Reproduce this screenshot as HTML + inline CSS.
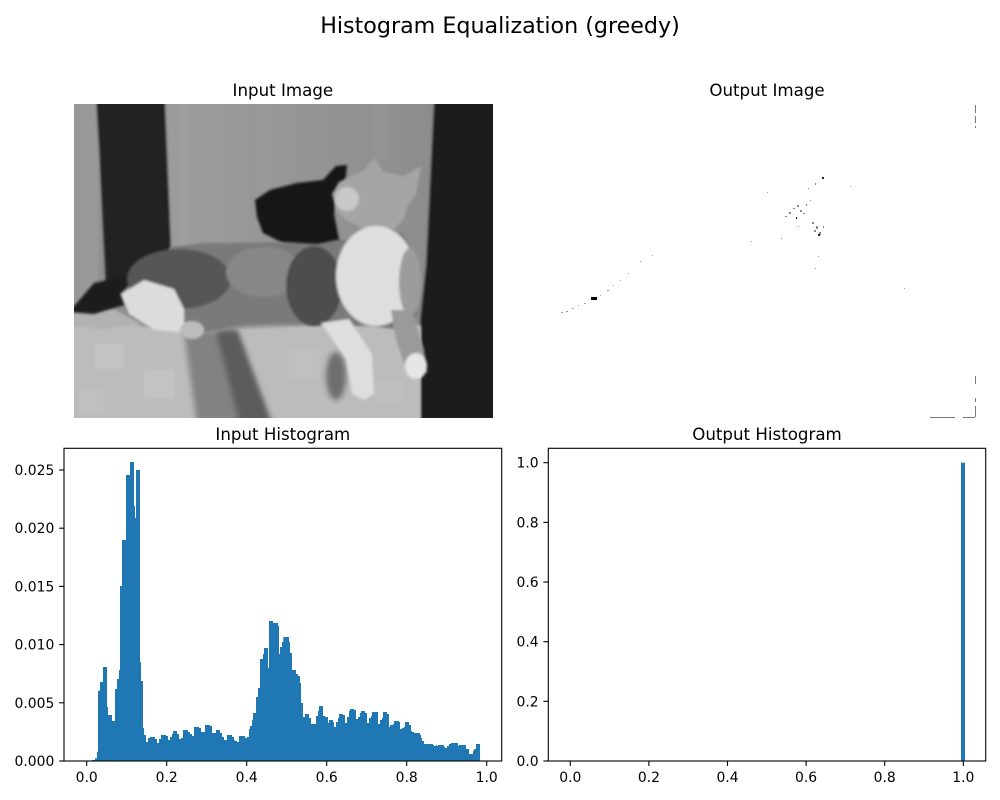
<!DOCTYPE html>
<html>
<head>
<meta charset="utf-8">
<style>
html,body{margin:0;padding:0;background:#fff;}
svg{display:block;}
text{font-family:"DejaVu Sans","Liberation Sans",sans-serif;fill:#000;}
</style>
</head>
<body>
<svg width="1000" height="800" viewBox="0 0 1000 800" xmlns="http://www.w3.org/2000/svg">
<defs>
  <clipPath id="imgclip"><rect x="0" y="0" width="419" height="314"/></clipPath>
  <filter id="b1" x="-20%" y="-20%" width="140%" height="140%"><feGaussianBlur stdDeviation="1.3"/></filter>
  <filter id="b3" x="-30%" y="-30%" width="160%" height="160%"><feGaussianBlur stdDeviation="3"/></filter>
  <linearGradient id="wall" x1="0" y1="0" x2="1" y2="0">
    <stop offset="0" stop-color="#9c9c9c"/>
    <stop offset="0.5" stop-color="#959595"/>
    <stop offset="1" stop-color="#8c8c8c"/>
  </linearGradient>
</defs>

<!-- Suptitle -->
<text x="500" y="33" font-size="22.2" text-anchor="middle">Histogram Equalization (greedy)</text>

<!-- Axes titles -->
<text x="282.85" y="96" font-size="16.67" text-anchor="middle">Input Image</text>
<text x="767" y="96" font-size="16.67" text-anchor="middle">Output Image</text>
<text x="282.85" y="440" font-size="16.67" text-anchor="middle">Input Histogram</text>
<text x="767" y="440" font-size="16.67" text-anchor="middle">Output Histogram</text>

<!-- Input image (approximation) -->
<g transform="translate(74,104)" clip-path="url(#imgclip)">
  <rect x="0" y="0" width="419" height="314" fill="#8e8e8e"/>
  <g filter="url(#b1)">
    <rect x="-5" y="-5" width="30" height="220" fill="#999999"/>
    <rect x="89" y="-5" width="275" height="240" fill="url(#wall)"/>
    <rect x="105" y="-5" width="10" height="150" fill="#a2a2a2" opacity="0.6"/>
    <rect x="140" y="-5" width="8" height="150" fill="#9e9e9e" opacity="0.5"/>
    <rect x="185" y="-5" width="12" height="90" fill="#9b9b9b" opacity="0.5"/>
    <rect x="300" y="-5" width="14" height="60" fill="#999" opacity="0.5"/>
    <!-- dark left band -->
    <polygon points="22,-5 91,-5 97,140 97,178 32,182 28,100" fill="#202020"/>
    <!-- dark right region -->
    <polygon points="360,-5 425,-5 425,320 346,320 346,215 352,160" fill="#1c1c1c"/>
  </g>
  <!-- cat shadow on wall -->
  <polygon points="181,96 196,86 223,79 249,76 262,62 273,61 271,80 262,92 260,110 266,140 258,156 230,150 209,139 189,129 183,113" fill="#141414" filter="url(#b1)"/>
  <!-- couch -->
  <g filter="url(#b1)">
    <polygon points="-5,206 40,215 67,222 110,228 163,225 229,222 296,219 335,218 347,222 347,320 -5,320" fill="#bcbcbc"/>
    <polygon points="-5,205 40,205 67,220 30,225 -5,222" fill="#b2b2b2"/>
    <rect x="20" y="240" width="30" height="25" fill="#c8c8c8" opacity="0.6"/>
    <rect x="70" y="265" width="30" height="30" fill="#c8c8c8" opacity="0.6"/>
    <rect x="5" y="285" width="25" height="25" fill="#c4c4c4" opacity="0.5"/>
    <rect x="215" y="245" width="30" height="30" fill="#c4c4c4" opacity="0.5"/>
    <rect x="300" y="275" width="30" height="25" fill="#c2c2c2" opacity="0.5"/>
  </g>
  <polygon points="110,228 162,226 196,320 123,320" fill="#828282" filter="url(#b3)"/>
  <polygon points="142,228 163,226 198,320 166,320" fill="#5c5c5c" filter="url(#b3)"/>
  <ellipse cx="262" cy="272" rx="10" ry="24" fill="#6e6e6e" filter="url(#b3)"/>
  <!-- dark shadow left under cat -->
  <polygon points="-5,208 20,179 67,169 72,196 43,203 20,210" fill="#1a1a1a" filter="url(#b1)"/>
  <!-- cat -->
  <g filter="url(#b1)">
    <polygon points="46,190 70,165 97,143 130,139 163,139 213,138 243,140 262,136 296,136 329,129 343,156 346,189 343,213 329,226 296,222 263,222 229,220 196,220 163,222 129,229 106,229 79,219 53,209" fill="#7a7a7a"/>
    <ellipse cx="105" cy="175" rx="52" ry="30" fill="#565656"/>
    <ellipse cx="190" cy="168" rx="38" ry="25" fill="#878787"/>
    <ellipse cx="240" cy="182" rx="28" ry="40" fill="#4e4e4e"/>
    <!-- head -->
    <polygon points="258,90 265,78 290,66 300,54 310,68 330,72 347,62 342,90 333,103 330,115 320,125 290,125 270,115 262,105" fill="#a5a5a5"/>
    <ellipse cx="273" cy="95" rx="12" ry="12" fill="#c8c8c8"/>
    <!-- chest -->
    <ellipse cx="302" cy="172" rx="40" ry="50" fill="#dedede"/>
    <ellipse cx="336" cy="178" rx="11" ry="34" fill="#9c9c9c"/>
    <!-- hind leg white -->
    <polygon points="47,190 70,176 100,185 110,205 110,229 80,226 55,210" fill="#dcdcdc"/>
    <ellipse cx="118" cy="226" rx="12" ry="9" fill="#bcbcbc"/>
    <!-- front legs -->
    <polygon points="247,219 275,215 298,250 300,290 290,296 278,290 272,255" fill="#dedede"/>
    <polygon points="317,206 338,206 350,246 353,268 343,276 333,268 322,235" fill="#9a9a9a"/>
    <ellipse cx="342" cy="262" rx="11" ry="13" fill="#e6e6e6"/>
  </g>
</g>

<!-- Output image specks -->
<g>
  <rect x="591" y="297" width="6" height="3" fill="#000"/>
  <g fill="#a0a0a0">
    <rect x="561" y="312" width="2" height="1"/><rect x="566" y="311" width="2" height="1"/>
    <rect x="572" y="308" width="2" height="1"/><rect x="578" y="305" width="1" height="1"/>
    <rect x="584" y="303" width="2" height="1"/><rect x="600" y="295" width="1" height="1"/>
    <rect x="607" y="290" width="2" height="1"/><rect x="613" y="285" width="1" height="1"/>
    <rect x="620" y="280" width="1" height="1"/><rect x="628" y="273" width="1" height="1"/>
    <rect x="640" y="261" width="1" height="1"/><rect x="652" y="255" width="1" height="1"/>
    <rect x="751" y="241" width="1" height="1"/><rect x="767" y="192" width="1" height="1"/>
    <rect x="904" y="288" width="1" height="1"/><rect x="815" y="268" width="1" height="1"/>
    <rect x="818" y="256" width="1" height="1"/><rect x="850" y="186" width="1" height="1"/>
  </g>
  <g fill="#888">
    <rect x="785" y="216" width="2" height="1"/><rect x="789" y="212" width="2" height="2"/>
    <rect x="793" y="208" width="2" height="1"/><rect x="797" y="205" width="2" height="2"/>
    <rect x="800" y="210" width="2" height="2"/><rect x="803" y="213" width="2" height="1"/>
    <rect x="806" y="204" width="1" height="2"/><rect x="810" y="200" width="1" height="1"/>
    <rect x="808" y="188" width="1" height="1"/><rect x="815" y="183" width="1" height="2"/>
    <rect x="812" y="222" width="2" height="2"/><rect x="816" y="226" width="2" height="3"/>
    <rect x="819" y="232" width="2" height="3"/><rect x="814" y="230" width="2" height="2"/>
    <rect x="823" y="226" width="1" height="2"/><rect x="798" y="226" width="1" height="1"/>
    <rect x="781" y="238" width="1" height="1"/>
  </g>
  <g fill="#222">
    <rect x="822" y="177" width="2" height="2"/><rect x="796" y="217" width="1" height="2"/>
    <rect x="818" y="234" width="2" height="2"/>
  </g>
  <g fill="#777">
    <rect x="975" y="105" width="1" height="8"/><rect x="975" y="116" width="1" height="7"/><rect x="975" y="126" width="1" height="2"/>
    <rect x="975" y="376" width="1" height="8"/><rect x="975" y="398" width="1" height="4"/><rect x="975" y="406" width="1" height="11"/>
    <rect x="930" y="417" width="25" height="1"/><rect x="963" y="417" width="12" height="1"/>
  </g>
</g>

<!-- Input histogram -->
<path d="M92,761 V760 H95 V758.3 H97 V751.7 H98 V690.7 H100 V682 H103 V667 H107 V707 H108 V715 H112 V721 H115 V689 H117 V679 H119 V670 H120 V586 H122 V540 H126 V475 H130 V462 H134 V506 H135 V518 H136 V470 H140 V662 H141 V681 H143 V728 H144 V735 H146 V742 H148 V738 H150 V737 H155 V739 H157 V743 H159 V739 H161 V735 H166 V736 H168 V740 H170 V737 H172 V734 H173 V731 H177 V734 H179 V739 H181 V738 H183 V730 H188 V732 H190 V734 H192 V736 H194 V727 H199 V728 H201 V732 H205 V725 H210 V726 H212 V733 H216 V730 H220 V733 H222 V737 H224 V740 H227 V735 H232 V737 H234 V740 H235 V741 H237 V742 H239 V736 H245 V738 H247 V737 H249 V729 H250 V726 H252 V720 H253 V713 H256 V697 H258 V688 H260 V659 H263 V654 H264 V648 H268 V668 H269 V621 H273 V623 H278 V626 H279 V654 H280 V647 H282 V642 H283.3 V637 H289 V642 H290 V653 H292 V670 H296 V674 H298 V676 H300 V683 H301 V703 H303 V717 H305 V714 H309 V718 H311 V724 H316 V716 H318 V711 H319 V706 H323 V716 H325 V717 H328 V723 H329 V720 H333 V722 H334 V727 H336 V722 H338 V718 H339 V714 H343 V715 H345 V723 H347 V717 H349 V711 H350 V709 H354 V710 H356 V719 H358 V717 H360 V713 H361 V711 H365 V713 H367 V723 H369 V718 H371 V716 H372 V712 H378 V724 H380 V720 H382 V718 H383 V712 H387 V714 H389 V727 H390 V725 H393 V724 H394 V721 H399 V722 H400 V729 H402 V728 H404 V727 H405 V722 H409 V725 H411 V731 H412 V732 H414 V733 H420 V735 H421 V738 H422 V741 H424 V744 H433 V745 H434 V746 H436 V745 H437 V746 H438 V745 H444 V747 H445 V748 H447 V746 H449 V744 H451 V743 H458 V746 H459 V745 H462 V745 H466 V749 H469 V754 H473 V751 H474 V749 H476 V744 H480 V761 Z" fill="#1f77b4"/>
<rect x="64" y="448.3" width="437.7" height="312.7" fill="none" stroke="#000" stroke-width="1.1"/>
<g stroke="#000" stroke-width="1.1">
  <line x1="86.7" y1="761" x2="86.7" y2="765.9"/>
  <line x1="166.7" y1="761" x2="166.7" y2="765.9"/>
  <line x1="246.7" y1="761" x2="246.7" y2="765.9"/>
  <line x1="326.7" y1="761" x2="326.7" y2="765.9"/>
  <line x1="406.7" y1="761" x2="406.7" y2="765.9"/>
  <line x1="486.7" y1="761" x2="486.7" y2="765.9"/>
  <line x1="59.1" y1="761" x2="64" y2="761"/>
  <line x1="59.1" y1="702.8" x2="64" y2="702.8"/>
  <line x1="59.1" y1="644.6" x2="64" y2="644.6"/>
  <line x1="59.1" y1="586.4" x2="64" y2="586.4"/>
  <line x1="59.1" y1="528.2" x2="64" y2="528.2"/>
  <line x1="59.1" y1="470" x2="64" y2="470"/>
</g>
<g font-size="13.9" text-anchor="middle">
  <text x="86.7" y="782">0.0</text>
  <text x="166.7" y="782">0.2</text>
  <text x="246.7" y="782">0.4</text>
  <text x="326.7" y="782">0.6</text>
  <text x="406.7" y="782">0.8</text>
  <text x="486.7" y="782">1.0</text>
</g>
<g font-size="13.9" text-anchor="end">
  <text x="54.3" y="766">0.000</text>
  <text x="54.3" y="707.8">0.005</text>
  <text x="54.3" y="649.6">0.010</text>
  <text x="54.3" y="591.4">0.015</text>
  <text x="54.3" y="533.2">0.020</text>
  <text x="54.3" y="475">0.025</text>
</g>

<!-- Output histogram -->
<rect x="961" y="462.7" width="4" height="298.3" fill="#1f77b4"/>
<rect x="548.3" y="448.3" width="437.4" height="312.7" fill="none" stroke="#000" stroke-width="1.1"/>
<g stroke="#000" stroke-width="1.1">
  <line x1="570.3" y1="761" x2="570.3" y2="765.9"/>
  <line x1="648.9" y1="761" x2="648.9" y2="765.9"/>
  <line x1="727.5" y1="761" x2="727.5" y2="765.9"/>
  <line x1="806.1" y1="761" x2="806.1" y2="765.9"/>
  <line x1="884.7" y1="761" x2="884.7" y2="765.9"/>
  <line x1="963.3" y1="761" x2="963.3" y2="765.9"/>
  <line x1="543.4" y1="761" x2="548.3" y2="761"/>
  <line x1="543.4" y1="701.3" x2="548.3" y2="701.3"/>
  <line x1="543.4" y1="641.7" x2="548.3" y2="641.7"/>
  <line x1="543.4" y1="582" x2="548.3" y2="582"/>
  <line x1="543.4" y1="522.4" x2="548.3" y2="522.4"/>
  <line x1="543.4" y1="462.7" x2="548.3" y2="462.7"/>
</g>
<g font-size="13.9" text-anchor="middle">
  <text x="570.3" y="782">0.0</text>
  <text x="648.9" y="782">0.2</text>
  <text x="727.5" y="782">0.4</text>
  <text x="806.1" y="782">0.6</text>
  <text x="884.7" y="782">0.8</text>
  <text x="963.3" y="782">1.0</text>
</g>
<g font-size="13.9" text-anchor="end">
  <text x="538.6" y="766">0.0</text>
  <text x="538.6" y="706.3">0.2</text>
  <text x="538.6" y="646.7">0.4</text>
  <text x="538.6" y="587">0.6</text>
  <text x="538.6" y="527.4">0.8</text>
  <text x="538.6" y="467.7">1.0</text>
</g>
</svg>
</body>
</html>
